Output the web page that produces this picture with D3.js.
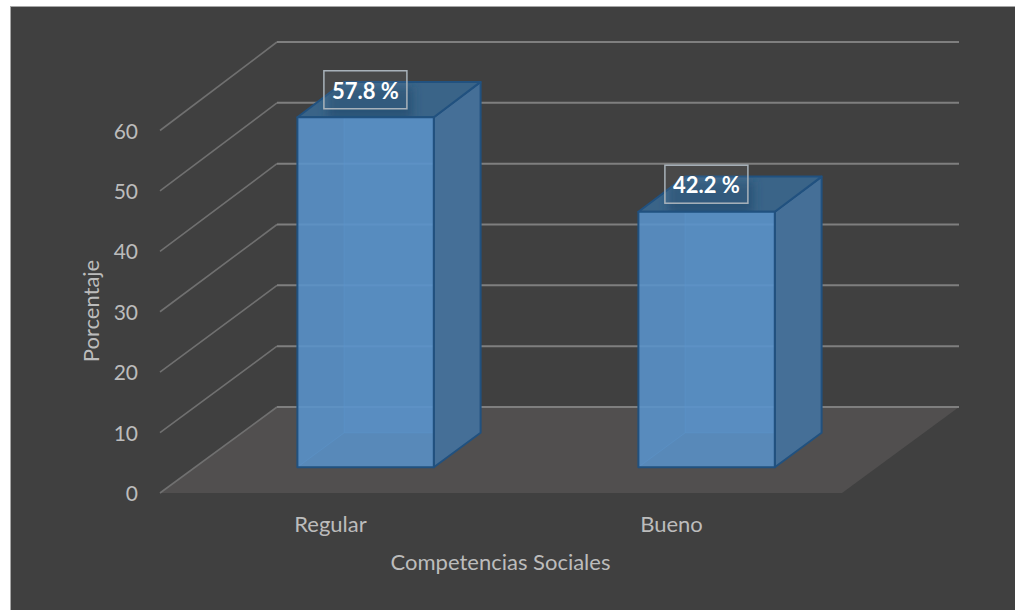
<!DOCTYPE html>
<html><head><meta charset="utf-8">
<script src="https://cdn.jsdelivr.net/npm/d3@7"></script>
<style>html,body{margin:0;padding:0;background:#fff}svg{display:block}text{font-family:Lato,"Open Sans",sans-serif}</style>
</head><body><svg id="c" width="1015" height="610"></svg>
<script>
const categories = ["Regular", "Bueno"];
const values = [57.8, 42.2];
const labels = ["57.8 %", "42.2 %"];
const yTicks = [0, 10, 20, 30, 40, 50, 60];
const xTitle = "Competencias Sociales";
const yTitle = "Porcentaje";

const svg = d3.select("#c");
const defs = svg.append("defs");
defs.append("filter").attr("id","soft").attr("x","-30%").attr("y","-30%").attr("width","160%").attr("height","160%")
  .append("feGaussianBlur").attr("stdDeviation",5);
const x = d3.scaleBand().domain(categories).range([160, 842]);
const y = d3.scaleLinear().domain([0, 60]).range([493, 130.5]);
const yBack = d3.scaleLinear().domain([0, 60]).range([407, 42]);
const zx = d3.scaleLinear().domain([0, 1]).range([0, 117]);
const P = (px, v, z) => [px + zx(z), y(v) + (yBack(v) - y(v)) * z];
const line = d3.line();
const poly = pts => line(pts) + "Z";
const barFrac = 0.4, z0 = 0.3, z1 = 0.7;
const textCol = "#bcbcbc";

svg.append("rect").attr("x",10.5).attr("y",6.5).attr("width",1005).attr("height",604).attr("fill","#404040").attr("stroke","#a6a6a6");

const [xl, xr] = x.range();
// floor
svg.append("path").attr("d", poly([P(xl,0,0),P(xl,0,1),P(xr,0,1),P(xr,0,0)])).attr("fill","#514f4f");
// gridlines
yTicks.forEach(t => {
  svg.append("path").attr("d", line([P(xl,t,0),P(xl,t,1)])).attr("fill","none").attr("stroke","#707070").attr("stroke-width",1.6);
  svg.append("path").attr("d", line([P(xl,t,1),P(xr,t,1)])).attr("fill","none").attr("stroke","#7f7f7f").attr("stroke-width",2);
});
// bars
categories.forEach((c,i) => {
  const w = x.bandwidth()*barFrac, a = x(c)+(x.bandwidth()-w)/2, b = a+w, v = values[i];
  const g = svg.append("g").attr("stroke-linejoin","round");
  const blue = "#5b9bd5";
  // hidden faces
  g.append("path").attr("d", poly([P(a,0,z1),P(b,0,z1),P(b,v,z1),P(a,v,z1)])).attr("fill",blue).attr("fill-opacity",.4);
  g.append("path").attr("d", poly([P(a,0,z0),P(a,0,z1),P(a,v,z1),P(a,v,z0)])).attr("fill",blue).attr("fill-opacity",.2);
  g.append("path").attr("d", line([P(a,0,z0),P(a,0,z1),P(a,v,z1)])).attr("fill","none").attr("stroke","#5f9fd8").attr("stroke-opacity",.45);
  g.append("path").attr("d", line([P(a,0,z1),P(b,0,z1)])).attr("fill","none").attr("stroke","#5f9fd8").attr("stroke-opacity",.45);
  // side + top
  g.append("path").attr("d", poly([P(b,0,z0),P(b,0,z1),P(b,v,z1),P(b,v,z0)])).attr("fill","#456f97").attr("stroke","#21517f").attr("stroke-width",2);
  const topPts = [P(a,v,z0),P(a,v,z1),P(b,v,z1),P(b,v,z0)];
  g.append("path").attr("d", poly(topPts)).attr("fill","#3a6488").attr("stroke","#21517f").attr("stroke-width",2);
  // shadow below the data label
  const clipId = "top"+i;
  defs.append("clipPath").attr("id",clipId).append("path").attr("d", poly(topPts));
  const [fx, fy] = P(a,v,z0);
  g.append("g").attr("clip-path",`url(#${clipId})`).append("rect")
    .attr("x",fx+30).attr("y",fy-30).attr("width",85).attr("height",32)
    .attr("fill","#234c70").attr("fill-opacity",.75).attr("filter","url(#soft)");
  // front
  g.append("path").attr("d", poly([P(a,0,z0),P(b,0,z0),P(b,v,z0),P(a,v,z0)])).attr("fill","#5a93cb").attr("fill-opacity",.86).attr("stroke","#21517f").attr("stroke-width",2);
  // label box
  const bw = 83, bh = 38, bx = fx+26.5, by = fy-46.5;
  svg.append("rect").attr("x",bx).attr("y",by).attr("width",bw).attr("height",bh)
    .attr("fill","#ffffff").attr("fill-opacity",.05).attr("stroke","#a9b3bb").attr("stroke-width",1.5);
  svg.append("text").attr("x",bx+bw/2).attr("y",by+28).attr("text-anchor","middle")
    .attr("font-size",22).attr("font-weight",700).attr("fill","#fff").text(labels[i]);
});
// tick labels
yTicks.forEach(t => {
  svg.append("text").attr("x",138).attr("y",y(t)+8).attr("text-anchor","end")
    .attr("font-size",21).attr("fill",textCol).text(t);
});
categories.forEach(c => {
  svg.append("text").attr("x",x(c)+x.bandwidth()/2).attr("y",532).attr("text-anchor","middle")
    .attr("font-size",22).attr("fill",textCol).text(c);
});
svg.append("text").attr("x",500.5).attr("y",570).attr("text-anchor","middle").attr("font-size",22).attr("fill",textCol).text(xTitle);
svg.append("text").attr("transform","translate(99,311) rotate(-90)").attr("text-anchor","middle").attr("font-size",22).attr("fill",textCol).text(yTitle);
</script></body></html>
